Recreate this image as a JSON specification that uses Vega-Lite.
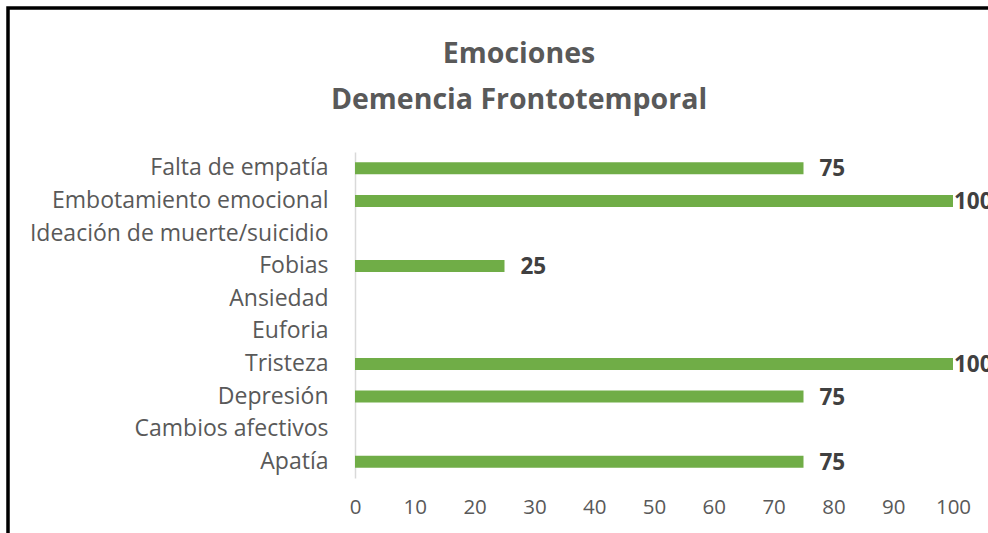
{
  "$schema": "https://vega.github.io/schema/vega-lite/v6.json",
  "autosize": {"type": "none"},
  "width": 990,
  "height": 540,
  "padding": {"left": 8, "top": 8, "right": 0, "bottom": 0},
  "background": "white",
  "config": {"view": {"stroke": "#000000", "strokeWidth": 3.5}, "font": "Open Sans"},
  "title": {
    "text": ["Emociones", "Demencia Frontotemporal"],
    "fontSize": 28.5,
    "fontWeight": "bold",
    "color": "#595959",
    "lineHeight": 46,
    "anchor": "middle",
    "frame": "group",
    "baseline": "top",
    "offset": 0,
    "dx": 16,
    "dy": 106
  },
  "data": {
    "values": [
      {"emocion": "Falta de empatía", "valor": 75},
      {"emocion": "Embotamiento emocional", "valor": 100},
      {"emocion": "Ideación de muerte/suicidio", "valor": 0},
      {"emocion": "Fobias", "valor": 25},
      {"emocion": "Ansiedad", "valor": 0},
      {"emocion": "Euforia", "valor": 0},
      {"emocion": "Tristeza", "valor": 100},
      {"emocion": "Depresión", "valor": 75},
      {"emocion": "Cambios afectivos", "valor": 0},
      {"emocion": "Apatía", "valor": 75}
    ]
  },
  "encoding": {
    "y": {
      "field": "emocion",
      "type": "nominal",
      "sort": null,
      "scale": {"range": [144, 470], "paddingInner": 0, "paddingOuter": 0},
      "axis": {
        "title": null,
        "orient": "left",
        "offset": -347,
        "domainColor": "#D9D9D9",
        "domainWidth": 1.5,
        "ticks": false,
        "labelPadding": 27,
        "labelFontSize": 23,
        "labelColor": "#595959",
        "labelLimit": 0
      }
    },
    "x": {
      "field": "valor",
      "type": "quantitative",
      "scale": {"domain": [0, 100], "range": [347, 945], "nice": false},
      "axis": {
        "title": null,
        "orient": "bottom",
        "offset": -70,
        "domain": false,
        "ticks": false,
        "grid": false,
        "values": [0, 10, 20, 30, 40, 50, 60, 70, 80, 90, 100],
        "labelFlush": false,
        "labelOverlap": false,
        "labelPadding": 19,
        "labelFontSize": 20.5,
        "labelColor": "#595959"
      }
    }
  },
  "layer": [
    {"mark": {"type": "bar", "size": 12, "color": "#70AD47"}},
    {
      "transform": [{"filter": "datum.valor > 0 && datum.valor < 100"}],
      "mark": {"type": "text", "align": "left", "baseline": "middle", "dx": 16, "dy": 1, "fontSize": 22.5, "fontWeight": "bold", "color": "#404040"},
      "encoding": {"text": {"field": "valor", "type": "quantitative"}}
    },
    {
      "transform": [{"filter": "datum.valor >= 100"}],
      "mark": {"type": "text", "align": "left", "baseline": "middle", "dx": 1, "dy": 1, "fontSize": 22.5, "fontWeight": "bold", "color": "#404040"},
      "encoding": {"text": {"field": "valor", "type": "quantitative"}}
    }
  ]
}
